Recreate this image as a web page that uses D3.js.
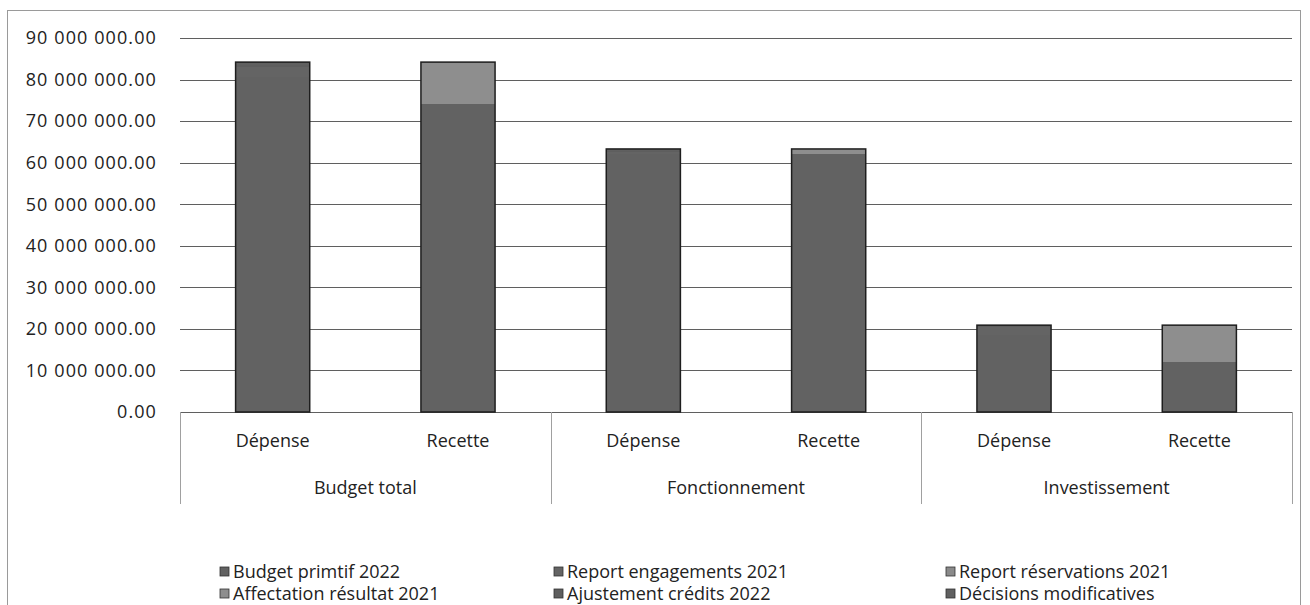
<!DOCTYPE html>
<html>
<head>
<meta charset="utf-8">
<script src="https://cdn.jsdelivr.net/npm/d3@7"></script>
<style>
  body { margin: 0; background: #fff; }
  svg text { font-family: "Open Sans", Lato, sans-serif; fill: #222; font-size: 18px; }
</style>
</head>
<body>
<div id="chart"></div>
<script>
// categories
var groups = ['Budget total', 'Fonctionnement', 'Investissement'];
var subs = ['Dépense', 'Recette'];
var yTicks = [0, 10e6, 20e6, 30e6, 40e6, 50e6, 60e6, 70e6, 80e6, 90e6];

// series, one value per bar: BT dép, BT rec, F dép, F rec, I dép, I rec
var seriesNames = ['Budget primtif 2022', 'Report engagements 2021', 'Report réservations 2021',
                   'Affectation résultat 2021', 'Ajustement crédits 2022', 'Décisions modificatives'];
var budgetPrimitif   = [80.5e6, 74.1e6, 62.0e6, 62.0e6, 18.5e6, 12.1e6];
var reportEngag      = [2.5e6, 0, 0.6e6, 0, 1.9e6, 0];
var reportReserv     = [0, 0, 0, 0, 0, 0];
var affectation      = [0, 10.1e6, 0, 1.3e6, 0, 8.8e6];
var ajustement       = [0.5e6, 0, 0.3e6, 0, 0.2e6, 0];
var decisions        = [0.7e6, 0, 0.4e6, 0, 0.3e6, 0];
var colors = ['#626262', '#646464', '#8a8a8a', '#8e8e8e', '#5e5e5e', '#606060'];

var W = 1310, H = 605;
var margin = {top: 38, left: 180, right: 18, bottom: 193};

var svg = d3.select('#chart').append('svg')
    .attr('width', W).attr('height', H);

// outer frame
svg.append('rect')
    .attr('x', 7.5).attr('y', 10.5)
    .attr('width', 1293).attr('height', 610)
    .attr('fill', 'none').attr('stroke', '#9a9a9a');

var plotW = W - margin.left - margin.right,
    plotH = H - margin.top - margin.bottom;

var x0 = d3.scaleBand().domain(groups).range([0, plotW]);
var x1 = d3.scaleBand().domain(subs).range([0, x0.bandwidth()]).paddingInner(0.6).paddingOuter(0.3);
var y = d3.scaleLinear().domain([0, 90e6]).range([plotH, 0]);

var g = svg.append('g').attr('transform', `translate(${margin.left},${margin.top})`);

// gridlines
g.append('g').selectAll('line')
    .data(yTicks).enter().append('line')
    .attr('x1', 0).attr('x2', plotW)
    .attr('y1', d => Math.round(y(d)) + 0.5).attr('y2', d => Math.round(y(d)) + 0.5)
    .attr('stroke', '#5f5f5f').attr('stroke-width', 1);

// y labels
var fmt = function (v) {
    return d3.format(',.2f')(v).replace(/,/g, ' ');
};
g.append('g').selectAll('text')
    .data(yTicks).enter().append('text')
    .attr('x', -23).attr('y', d => y(d))
    .attr('dy', '0.35em')
    .attr('text-anchor', 'end')
    .style('letter-spacing', '1.1px')
    .text(fmt);

// stack data
var table = [];
groups.forEach(function (gr, gi) {
    subs.forEach(function (s, si) {
        var i = gi * 2 + si;
        table.push({group: gr, sub: s, s0: budgetPrimitif[i], s1: reportEngag[i], s2: reportReserv[i],
                    s3: affectation[i], s4: ajustement[i], s5: decisions[i]});
    });
});
var keys = ['s0', 's1', 's2', 's3', 's4', 's5'];
var stack = d3.stack().keys(keys)(table);
var total = d => keys.reduce((a, k) => a + d[k], 0);

var layers = g.append('g').selectAll('g')
    .data(stack).enter().append('g')
    .attr('fill', (d, i) => colors[i]);

layers.selectAll('rect')
    .data(d => d).enter().append('rect')
    .attr('x', d => x0(d.data.group) + x1(d.data.sub))
    .attr('width', x1.bandwidth())
    .attr('y', d => y(d[1]))
    .attr('height', d => y(d[0]) - y(d[1]))
    .attr('shape-rendering', 'crispEdges');

// bar outlines
g.append('g').selectAll('rect')
    .data(table).enter().append('rect')
    .attr('x', d => x0(d.group) + x1(d.sub))
    .attr('width', x1.bandwidth())
    .attr('y', d => y(total(d)))
    .attr('height', d => plotH - y(total(d)))
    .attr('fill', 'none').attr('stroke', '#1e1e1e').attr('stroke-width', 1.5);

// x axis: sub labels
table.forEach(function (d) {
    g.append('text')
        .attr('x', x0(d.group) + x1(d.sub) + x1.bandwidth() / 2)
        .attr('y', plotH + 35)
        .attr('text-anchor', 'middle')
        .text(d.sub);
});
// group labels
g.append('g').selectAll('text')
    .data(groups).enter().append('text')
    .attr('x', d => x0(d) + x0.bandwidth() / 2)
    .attr('y', plotH + 82)
    .attr('text-anchor', 'middle')
    .text(d => d);

// group separators
var seps = groups.map(d => x0(d)).concat([plotW]);
g.append('g').selectAll('line')
    .data(seps).enter().append('line')
    .attr('x1', d => Math.round(d) + 0.5).attr('x2', d => Math.round(d) + 0.5)
    .attr('y1', plotH).attr('y2', plotH + 92)
    .attr('stroke', '#a0a0a0');

// legend
var legCols = [220, 554, 946], legRows = [572, 594];
var leg = svg.append('g').selectAll('g')
    .data(seriesNames).enter().append('g')
    .attr('transform', (d, i) => `translate(${legCols[i % 3]},${legRows[Math.floor(i / 3)]})`);
leg.append('rect')
    .attr('x', 0).attr('y', -5).attr('width', 9).attr('height', 9)
    .attr('fill', (d, i) => colors[i]).attr('stroke', '#333').attr('stroke-width', 0.8);
leg.append('text')
    .attr('x', 13).attr('y', 0).attr('dy', '0.35em')
    .text(d => d);
</script>
</body>
</html>
